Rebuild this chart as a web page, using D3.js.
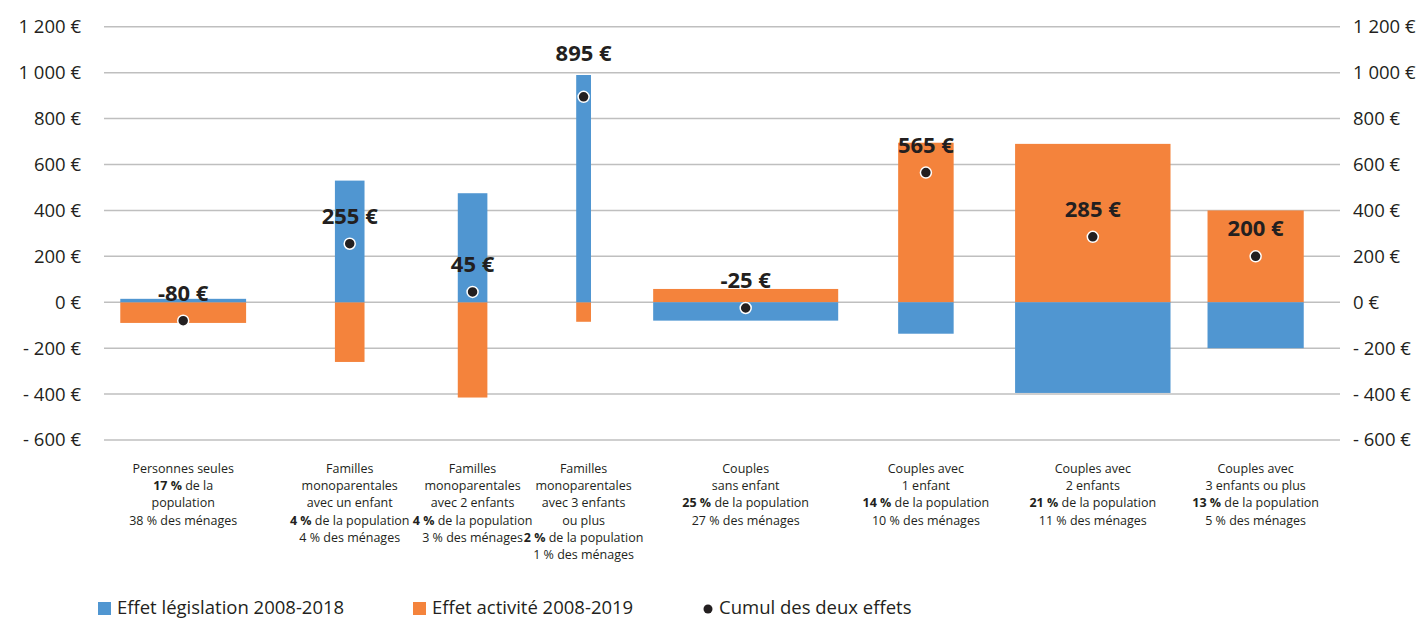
<!DOCTYPE html>
<html><head><meta charset="utf-8">
<script src="https://cdn.jsdelivr.net/npm/d3@7/dist/d3.min.js"></script>
<style>
html,body{margin:0;padding:0;background:#fff;}
svg{display:block;}
</style></head>
<body>
<svg id="chart" width="1424" height="619"></svg>
<script>
// ---------- data ----------
const categories = [
  ["Personnes seules", "**17 %** de la", "population", "38 % des ménages"],
  ["Familles", "monoparentales", "avec un enfant", "**4 %** de la population", "4 % des ménages"],
  ["Familles", "monoparentales", "avec 2 enfants", "**4 %** de la population", "3 % des ménages"],
  ["Familles", "monoparentales", "avec 3 enfants", "ou plus", "**2 %** de la population", "1 % des ménages"],
  ["Couples", "sans enfant", "**25 %** de la population", "27 % des ménages"],
  ["Couples avec", "1 enfant", "**14 %** de la population", "10 % des ménages"],
  ["Couples avec", "2 enfants", "**21 %** de la population", "11 % des ménages"],
  ["Couples avec", "3 enfants ou plus", "**13 %** de la population", "5 % des ménages"]
];
// horizontal extent of each bar along the x axis (axis units)
const barStart = [2.2, 31.2, 47.8, 63.8, 74.2, 107.3, 123.1, 149.1];
const barWidth = [17, 4, 4, 2, 25, 7.5, 21, 13];
const legislation = [15, 530, 475, 990, -80, -137, -395, -200];
const activite   = [-90, -260, -415, -85, 58, 695, 690, 400];
const cumul      = [-80, 255, 45, 895, -25, 565, 285, 200];
const yTicks = [-600, -400, -200, 0, 200, 400, 600, 800, 1000, 1200];
const seriesNames = ["Effet législation 2008-2018", "Effet activité 2008-2019", "Cumul des deux effets"];

// ---------- styles ----------
const BLUE = "#5096d1", ORANGE = "#f4833c", DARK = "#231f20", GRID = "#bfbfbf";
const FONT = "'Open Sans', 'Noto Sans', sans-serif";

const svg = d3.select("#chart");
const x = d3.scaleLinear().domain([0, 167]).range([104, 1340]);
const y = d3.scaleLinear().domain([-600, 1200]).range([440, 26.8]);

const fmt = v => {
  const s = d3.format(",")(Math.abs(v)).replace(/,/g, " ");
  return (v < 0 ? "- " : "") + s + " €";
};

// gridlines
svg.append("g").selectAll("line").data(yTicks).join("line")
  .attr("x1", x(0)).attr("x2", x(167))
  .attr("y1", d => y(d)).attr("y2", d => y(d))
  .attr("stroke", GRID).attr("stroke-width", 1.5);

// axes (left and right)
const axL = svg.append("g").attr("transform", `translate(${x(0)},0)`)
  .call(d3.axisLeft(y).tickValues(yTicks).tickFormat(fmt).tickSize(0).tickPadding(23));
const axR = svg.append("g").attr("transform", `translate(${x(167)},0)`)
  .call(d3.axisRight(y).tickValues(yTicks).tickFormat(fmt).tickSize(0).tickPadding(13));
[axL, axR].forEach(a => {
  a.select(".domain").remove();
  a.selectAll("text").attr("font-family", FONT).attr("font-size", 18.5).attr("fill", DARK);
});

// bars
const idx = d3.range(categories.length);
function drawSeries(vals, color) {
  svg.append("g").selectAll("rect").data(idx).join("rect")
    .attr("x", i => x(barStart[i]))
    .attr("width", i => x(barStart[i] + barWidth[i]) - x(barStart[i]))
    .attr("y", i => y(Math.max(0, vals[i])))
    .attr("height", i => Math.abs(y(vals[i]) - y(0)))
    .attr("fill", color);
}
drawSeries(activite, ORANGE);
drawSeries(legislation, BLUE);

const cx = i => x(barStart[i] + barWidth[i] / 2);

// dots
svg.append("g").selectAll("circle").data(idx).join("circle")
  .attr("cx", cx).attr("cy", i => y(cumul[i]))
  .attr("r", 5.5).attr("fill", DARK).attr("stroke", "#fff").attr("stroke-width", 1.5);

// data labels
svg.append("g").selectAll("text").data(idx).join("text")
  .attr("x", cx)
  .attr("y", i => {
    const w = x(barStart[i] + barWidth[i]) - x(barStart[i]);
    if (w < 20) return y(Math.max(legislation[i], activite[i], 0)) - 14;
    return y(cumul[i]) - 20;
  })
  .attr("text-anchor", "middle")
  .attr("font-family", FONT).attr("font-weight", "bold").attr("font-size", 22)
  .attr("fill", DARK)
  .text(i => cumul[i] + " €");

// category labels
const catG = svg.append("g").attr("font-family", FONT).attr("font-size", 12.5).attr("fill", DARK);
idx.forEach(i => {
  const t = catG.append("text").attr("text-anchor", "middle");
  categories[i].forEach((line, k) => {
    const parts = line.split("**");
    parts.forEach((p, j) => {
      if (p === "") return;
      const ts = t.append("tspan").text(p);
      if (j % 2 === 1) ts.attr("font-weight", "bold");
      if (j === 0 || (j === 1 && parts[0] === "")) ts.attr("x", cx(i)).attr("y", 473 + k * 17.2);
    });
  });
});

// legend
const lg = svg.append("g").attr("font-family", FONT).attr("font-size", 18.5).attr("fill", DARK);
const legX = [98, 413, 703];
[BLUE, ORANGE].forEach((c, k) => {
  lg.append("rect").attr("x", legX[k]).attr("y", 602).attr("width", 13).attr("height", 13).attr("fill", c);
});
lg.append("circle").attr("cx", legX[2] + 5).attr("cy", 609).attr("r", 4.5).attr("fill", DARK);
seriesNames.forEach((n, k) => {
  lg.append("text").attr("x", legX[k] + (k < 2 ? 19 : 16)).attr("y", 614).text(n);
});
</script>
</body></html>
